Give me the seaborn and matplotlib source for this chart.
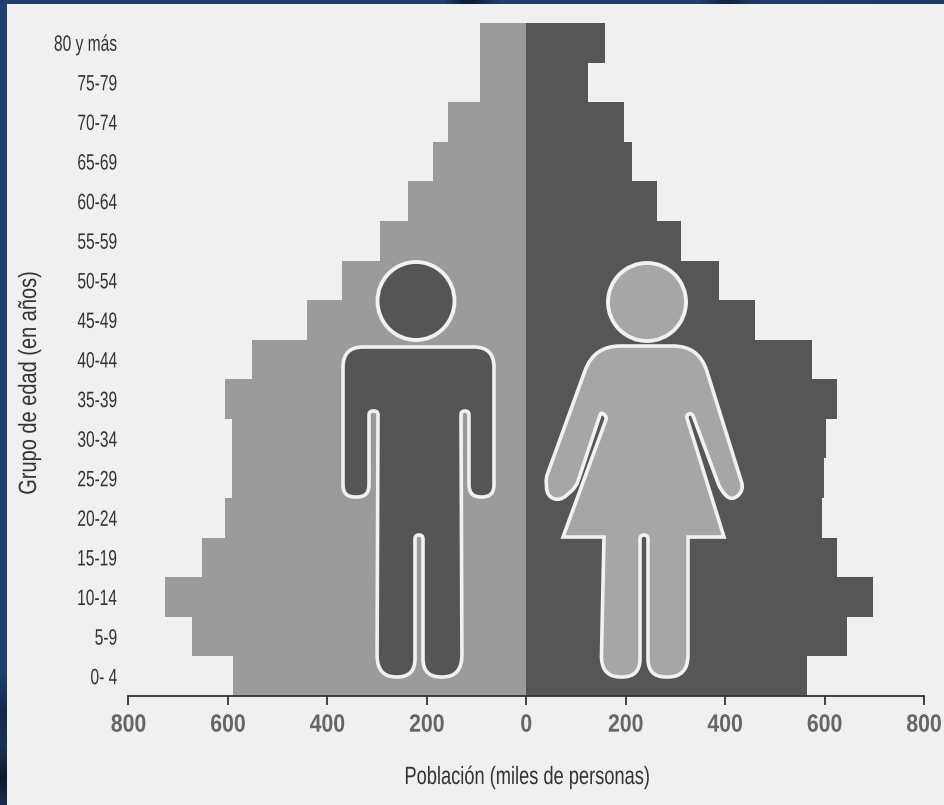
import numpy as np
import pandas as pd
import matplotlib
matplotlib.use("Agg")
import matplotlib.pyplot as plt
import seaborn as sns
from matplotlib.colors import LinearSegmentedColormap
from matplotlib.patches import Ellipse, PathPatch, Rectangle
from matplotlib.path import Path
from matplotlib.patheffects import AbstractPathEffect
from matplotlib.transforms import Affine2D

# Datos (miles de personas)
grupos = ["80 y más", "75-79", "70-74", "65-69", "60-64", "55-59", "50-54", "45-49", "40-44",
          "35-39", "30-34", "25-29", "20-24", "15-19", "10-14", "5-9", "0- 4"]
hombres = [94, 94, 157, 187, 237, 295, 370, 440, 551, 605, 591, 591, 605, 653, 726, 673, 589]
mujeres = [158, 124, 196, 212, 262, 312, 388, 460, 575, 625, 603, 599, 595, 625, 697, 645, 565]
ticks_x = [-800, -600, -400, -200, 0, 200, 400, 600, 800]
etiquetas_x = ["800", "600", "400", "200", "0", "200", "400", "600", "800"]

W, H = 945, 805
GRIS_TXT = "#333333"
BLANCO = "#f1f1f1"

# siluetas en pixeles de la imagen: (x, y, radio de esquina)
hombre = [(343, 347, 20), (494, 347, 20), (494, 497, 12), (469, 497, 12), (469, 411, 4), (461, 411, 4),
          (462, 677, 22), (423, 677, 18), (423, 535, 4), (415, 535, 4), (415, 677, 18), (377, 677, 22),
          (378, 411, 4), (369, 411, 4), (369, 497, 12), (343, 497, 12)]
mujer = [(594, 346, 26), (699, 346, 26), (744, 490, 8), (732, 501, 8), (721, 491, 8), (692, 413, 3),
         (686, 415, 3), (724, 537, 0), (688, 537, 0), (688, 677, 22), (648, 677, 18), (648, 535, 4),
         (640, 535, 4), (640, 677, 18), (601, 677, 22), (604, 537, 0), (563, 537, 0), (607, 417, 3),
         (601, 412, 3), (576, 487, 6), (560, 501, 8), (547, 496, 8), (546, 478, 4)]


class Estrecha(AbstractPathEffect):
    # comprime el texto en su propio eje, la fuente condensada no esta instalada
    def __init__(self, sx, ancla=0.5):
        super().__init__()
        self.sx = sx
        self.ancla = ancla

    def draw_path(self, renderer, gc, tpath, affine, rgbFace=None):
        ext = tpath.get_extents()
        x0 = ext.x0 + (ext.x1 - ext.x0) * self.ancla
        t = Affine2D().translate(-x0, 0).scale(self.sx, 1).translate(x0, 0)
        renderer.draw_path(gc, tpath, t + affine, rgbFace)


def silueta(puntos):
    # poligono con esquinas redondeadas
    verts, codes = [], []
    n = len(puntos)
    for i, (x, y, r) in enumerate(puntos):
        p = np.array([x, y], float)
        a = np.array(puntos[i - 1][:2], float)
        b = np.array(puntos[(i + 1) % n][:2], float)
        ini = p + (a - p) / np.linalg.norm(a - p) * min(r, np.linalg.norm(a - p) / 2)
        fin = p + (b - p) / np.linalg.norm(b - p) * min(r, np.linalg.norm(b - p) / 2)
        verts.append(ini)
        codes.append(Path.MOVETO if i == 0 else Path.LINETO)
        verts += [p, fin]
        codes += [Path.CURVE3, Path.CURVE3]
    verts.append(verts[0])
    codes.append(Path.CLOSEPOLY)
    return Path(verts, codes)


def main():
    df = pd.DataFrame({"grupo": grupos, "hombres": -np.array(hombres), "mujeres": mujeres})

    sns.set_theme(style="white")
    plt.rcParams["font.family"] = ["Liberation Sans", "DejaVu Sans"]

    fig = plt.figure(figsize=(W / 100, H / 100), dpi=100, facecolor="#1f3f6e")

    # marco azul y panel claro
    fondo = fig.add_axes([0, 0, 1, 1], zorder=0)
    fondo.axis("off")
    azul = "#1f3f6e"
    cmap_izq = LinearSegmentedColormap.from_list(
        "izq", [(0, azul), (0.84, azul), (0.885, "#14294a"), (0.93, "#1a3355"), (0.97, "#0c1a2e"), (1, "#152c4c")])
    fondo.imshow(np.linspace(0, 1, 400)[:, None], cmap=cmap_izq, extent=(0, 8, H, 0), aspect="auto")
    cmap_sup = LinearSegmentedColormap.from_list(
        "sup", [(0, azul), (0.47, azul), (0.495, "#0c1a2e"), (0.53, azul), (0.74, azul), (0.77, "#12233f"),
                (0.81, azul), (1, "#1c3a62")])
    fondo.imshow(np.linspace(0, 1, 400)[None, :], cmap=cmap_sup, extent=(0, W, 5, 0), aspect="auto")
    fondo.set_xlim(0, W)
    fondo.set_ylim(H, 0)
    fondo.add_patch(Rectangle((7, 4), W - 7, H - 4, color="#f0f0f0", lw=0))

    # piramide
    ax = fig.add_axes([128.5 / W, 1 - 696 / H, (924 - 128.5) / W, (696 - 23) / H], zorder=1)
    ax.patch.set_alpha(0)
    sns.barplot(data=df, y="grupo", x="hombres", color="#9b9b9b", saturation=1, width=1, linewidth=0, ax=ax)
    sns.barplot(data=df, y="grupo", x="mujeres", color="#565656", saturation=1, width=1, linewidth=0, ax=ax)
    ax.set_xlim(-800, 800)
    ax.set_ylim(16.5, -0.5)
    sns.despine(ax=ax, left=True, top=True, right=True)
    ax.spines["bottom"].set_color("#333333")
    ax.spines["bottom"].set_linewidth(1.3)

    ax.set_xticks(ticks_x)
    ax.set_xticklabels(etiquetas_x, fontsize=18, fontweight="bold", color="#666666")
    ax.tick_params(axis="x", bottom=True, length=6.5, width=1.3, color="#333333", pad=5.5)
    ax.tick_params(axis="y", left=False, length=0, pad=8, labelsize=16, labelcolor=GRIS_TXT)
    for t in ax.get_xticklabels():
        t.set_path_effects([Estrecha(0.85, 0.5)])
    for t in ax.get_yticklabels():
        t.set_path_effects([Estrecha(0.7, 1.0)])

    ax.set_xlabel("")
    ax.set_ylabel("")
    fig.text(527 / W, 1 - 777 / H, "Población (miles de personas)", ha="center", va="center",
             fontsize=18, color=GRIS_TXT, path_effects=[Estrecha(0.73, 0.5)])
    fig.text(29 / W, 1 - 383 / H, "Grupo de edad (en años)", ha="center", va="center", rotation=90,
             fontsize=18, color=GRIS_TXT, path_effects=[Estrecha(0.8, 0.5)])

    # figuras de hombre y mujer
    capa = fig.add_axes([0, 0, 1, 1], zorder=2)
    capa.set_xlim(0, W)
    capa.set_ylim(H, 0)
    capa.axis("off")
    capa.add_patch(PathPatch(silueta(hombre), facecolor="#555555", edgecolor=BLANCO, lw=2.6))
    capa.add_patch(PathPatch(silueta(mujer), facecolor="#a6a6a6", edgecolor=BLANCO, lw=2.6))
    capa.add_patch(Ellipse((416, 301), 77, 78, facecolor="#555555", edgecolor=BLANCO, lw=2.8))
    capa.add_patch(Ellipse((647, 302), 78, 78, facecolor="#a6a6a6", edgecolor=BLANCO, lw=2.8))

    fig.savefig("out.png", dpi=100, facecolor=fig.get_facecolor())
    plt.close(fig)


if __name__ == "__main__":
    main()
